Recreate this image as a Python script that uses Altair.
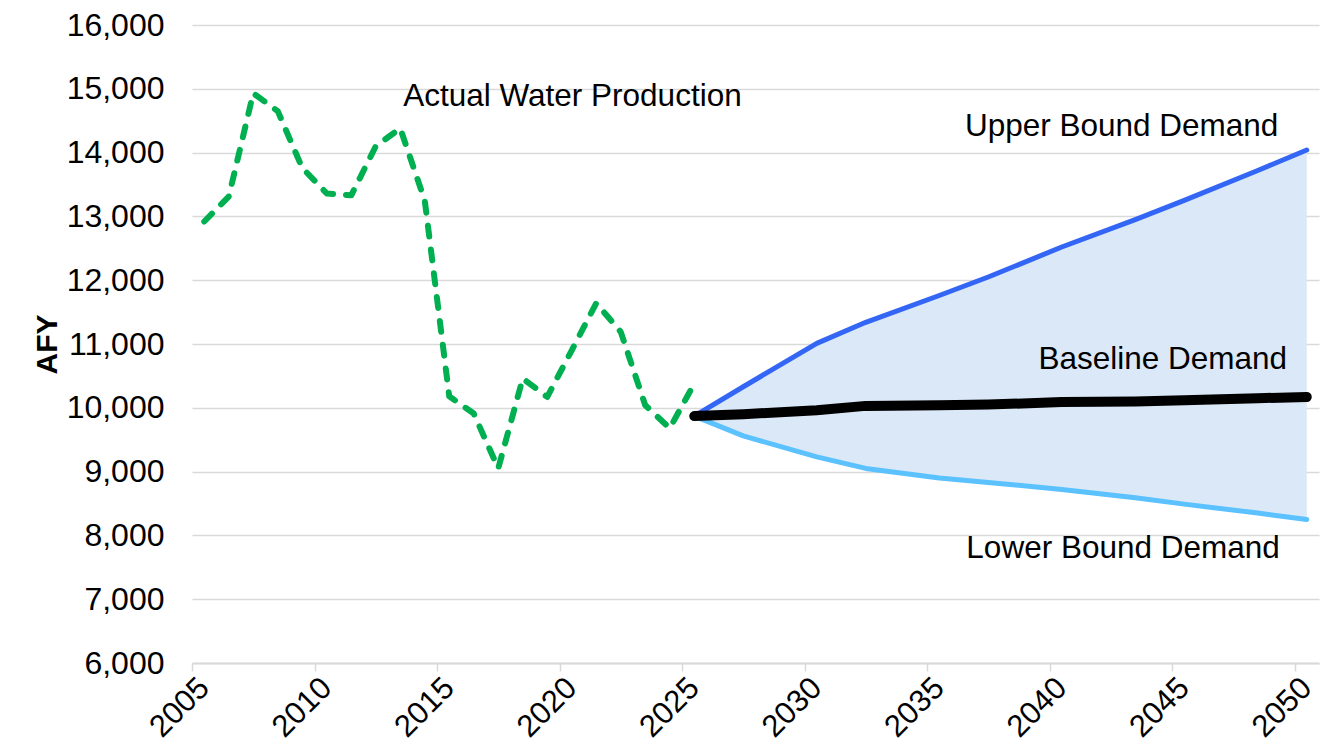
import altair as alt
import pandas as pd

# ---- data ----
actual_years = list(range(2005, 2026))
actual_afy = [12920, 13310, 14930, 14650, 13760, 13360, 13330, 14100, 14380, 13250,
              10180, 9910, 9050, 10460, 10170, 10900, 11640, 11190, 10040, 9680, 10380]

proj_years = [2025, 2027, 2030, 2032, 2035, 2037, 2040, 2043, 2045, 2048, 2050]
upper_afy = [9870, 10330, 11010, 11340, 11760, 12050, 12520, 12950, 13250, 13720, 14040]
baseline_afy = [9870, 9900, 9960, 10030, 10040, 10050, 10090, 10100, 10120, 10150, 10170]
lower_afy = [9870, 9560, 9230, 9050, 8900, 8830, 8720, 8590, 8490, 8350, 8250]

tick_years = list(range(2005, 2051, 5))
y_ticks = list(range(6000, 16001, 1000))

label_texts = ["Actual Water Production", "Upper Bound Demand", "Baseline Demand", "Lower Bound Demand"]
label_x = [2013.62, 2049.34, 2049.7, 2049.4]
label_y = [14870, 14400, 10750, 7780]
label_align = ["left", "right", "right", "right"]

# ---- tables ----
actual = pd.DataFrame({"year": actual_years, "afy": actual_afy})
actual["xpos"] = actual["year"] + 0.5  # category centred between ticks

proj = pd.DataFrame({"year": proj_years, "upper": upper_afy,
                     "baseline": baseline_afy, "lower": lower_afy})
proj["xpos"] = proj["year"] + 0.5

labels = pd.DataFrame({"text": label_texts, "xpos": label_x, "afy": label_y, "align": label_align})

FONT = "Liberation Sans"

xscale = alt.Scale(domain=[2005, 2051], nice=False, zero=False)
yscale = alt.Scale(domain=[6000, 16000], nice=False, zero=False)

x_axis = alt.Axis(values=tick_years, format="d", labelAngle=-45, labelAlign="right",
                  labelBaseline="middle", labelFontSize=31, labelFont=FONT, labelColor="#000000",
                  labelPadding=12, labelOffset=12, grid=False, domainColor="#D9D9D9", domainWidth=2,
                  tickColor="#D9D9D9", tickWidth=1.5, tickSize=8, title=None, labelFlush=False,
                  labelOverlap=False)
y_axis = alt.Axis(values=y_ticks, format=",d", labelFontSize=32, labelFont=FONT,
                  labelColor="#000000", labelPadding=28, ticks=False, domain=False,
                  gridColor="#D9D9D9", gridWidth=1.5, title="AFY", titleFont=FONT,
                  titleFontSize=30, titleFontWeight="bold", titleColor="#000000", titlePadding=4)

X = alt.X("xpos:Q", scale=xscale, axis=x_axis)

band = alt.Chart(proj).mark_area(color="#DAE8F7", opacity=1).encode(
    x=X,
    y=alt.Y("lower:Q", scale=yscale, axis=y_axis),
    y2="upper:Q",
)

upper_line = alt.Chart(proj).mark_line(color="#3366F5", strokeWidth=5, strokeCap="round",
                                       strokeJoin="round").encode(
    x=alt.X("xpos:Q", scale=xscale), y=alt.Y("upper:Q", scale=yscale))
lower_line = alt.Chart(proj).mark_line(color="#5BC1FF", strokeWidth=5, strokeCap="round",
                                       strokeJoin="round").encode(
    x=alt.X("xpos:Q", scale=xscale), y=alt.Y("lower:Q", scale=yscale))
base_line = alt.Chart(proj).mark_line(color="#000000", strokeWidth=10, strokeCap="round",
                                      strokeJoin="round").encode(
    x=alt.X("xpos:Q", scale=xscale), y=alt.Y("baseline:Q", scale=yscale))

actual_line = alt.Chart(actual).mark_line(color="#00B050", strokeWidth=6, strokeDash=[11, 13],
                                          strokeCap="round", strokeJoin="round").encode(
    x=alt.X("xpos:Q", scale=xscale), y=alt.Y("afy:Q", scale=yscale))

text_left = alt.Chart(labels).transform_filter(alt.datum.align == "left").mark_text(
    align="left", baseline="middle", fontSize=31.5, font=FONT, color="#000000").encode(
    x=alt.X("xpos:Q", scale=xscale), y=alt.Y("afy:Q", scale=yscale), text="text:N")
text_right = alt.Chart(labels).transform_filter(alt.datum.align == "right").mark_text(
    align="right", baseline="middle", fontSize=31.5, font=FONT, color="#000000").encode(
    x=alt.X("xpos:Q", scale=xscale), y=alt.Y("afy:Q", scale=yscale), text="text:N")

chart = alt.layer(band, upper_line, lower_line, base_line, actual_line, text_left, text_right).properties(
    width=1127, height=638,
    autosize=alt.AutoSizeParams(type="none"),
    padding={"left": 184, "top": 17, "right": 10, "bottom": 80},
    background="#FFFFFF",
).configure_view(stroke=None)

chart.save("out.html", embed_options={"renderer": "svg", "actions": False})
